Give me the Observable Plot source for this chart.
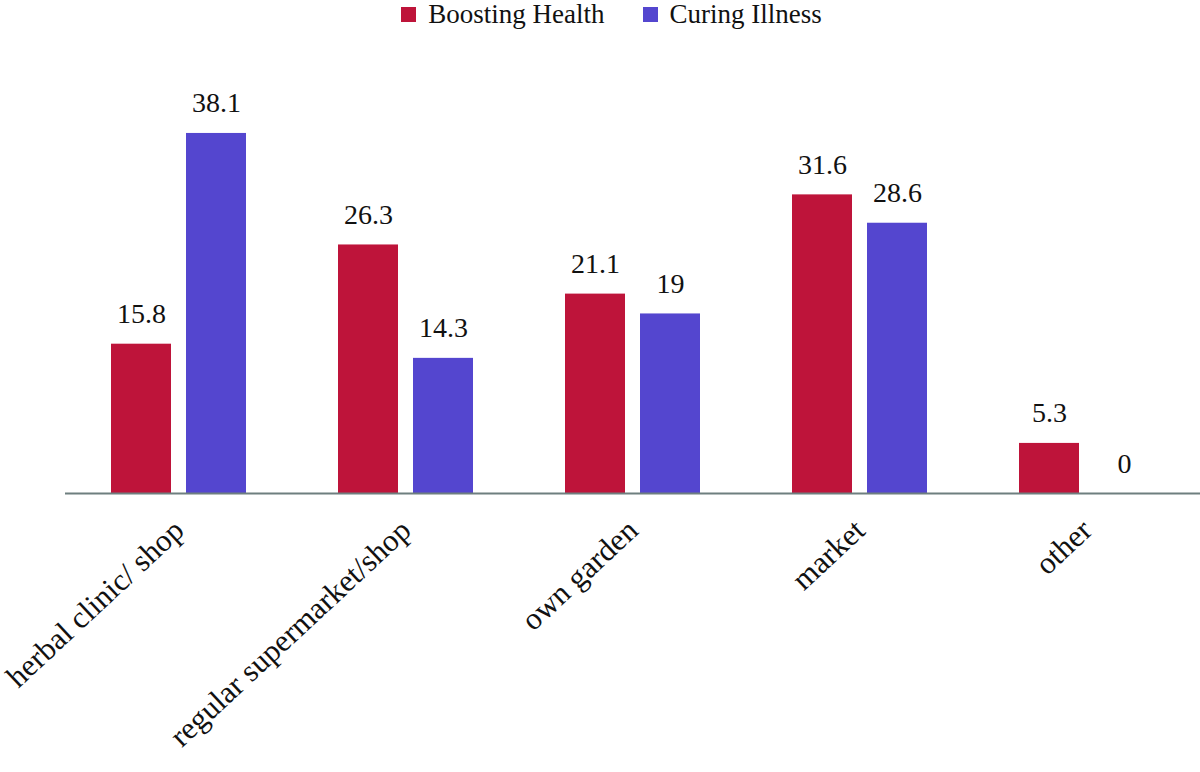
<!DOCTYPE html>
<html>
<head>
<meta charset="utf-8">
<script src="https://cdn.jsdelivr.net/npm/d3@7"></script>
<script src="https://cdn.jsdelivr.net/npm/@observablehq/plot@0.6"></script>
<style>
  html, body { margin: 0; padding: 0; background: #fff; }
  body { width: 1200px; height: 772px; overflow: hidden; font-family: "Liberation Serif", "DejaVu Serif", serif; }
  #legend { height: 30px; display: flex; justify-content: center; align-items: center; gap: 38px; font-size: 27px; color: #111; padding-left: 23px; }
  #legend .item { display: flex; align-items: center; gap: 12px; position: relative; top: -1px; }
  #legend .sw { width: 15px; height: 15px; display: inline-block; }
</style>
</head>
<body>
<div id="legend"></div>
<div id="chart"></div>
<script>
const categories = ["herbal clinic/ shop", "regular supermarket/shop", "own garden", "market", "other"];
const series = ["Boosting Health", "Curing Illness"];
const boostingHealth = [15.8, 26.3, 21.1, 31.6, 5.3];
const curingIllness = [38.1, 14.3, 19, 28.6, 0];
const colors = ["#BE143A", "#5446CF"];

const data = [];
categories.forEach((c, i) => {
  data.push({category: c, series: series[0], value: boostingHealth[i]});
  data.push({category: c, series: series[1], value: curingIllness[i]});
});

const legend = document.getElementById("legend");
series.forEach((s, i) => {
  const it = document.createElement("span");
  it.className = "item";
  const sw = document.createElement("span");
  sw.className = "sw";
  sw.style.background = colors[i];
  it.appendChild(sw);
  it.appendChild(document.createTextNode(s));
  legend.appendChild(it);
});

const chart = Plot.plot({
  width: 1200,
  height: 742,
  marginLeft: 65,
  marginRight: 0,
  marginTop: 85,
  marginBottom: 279,
  style: {fontFamily: "'Liberation Serif', 'DejaVu Serif', serif", background: "#fff", overflow: "visible"},
  fx: {domain: categories, paddingInner: 0.396, paddingOuter: 0.198, label: null, axis: null},
  x: {domain: series, paddingInner: 0.197, paddingOuter: 0, axis: null},
  y: {domain: [0, 40], axis: null},
  color: {domain: series, range: colors},
  marks: [
    Plot.barY(data, {fx: "category", x: "series", y: "value", fill: "series"}),
    Plot.ruleY([0], {stroke: "#6E7F7F", strokeWidth: 2, insetLeft: -45, insetRight: -45}),
    Plot.text(data, {fx: "category", x: "series", y: "value", text: d => String(d.value), lineAnchor: "bottom", dy: -21, fontSize: 28, fill: "#111"}),
    Plot.axisFx({anchor: "bottom", label: null, tickSize: 0, tickRotate: -43, tickPadding: 32, fontSize: 31, fill: "#111"})
  ]
});
document.getElementById("chart").appendChild(chart);
</script>
</body>
</html>
